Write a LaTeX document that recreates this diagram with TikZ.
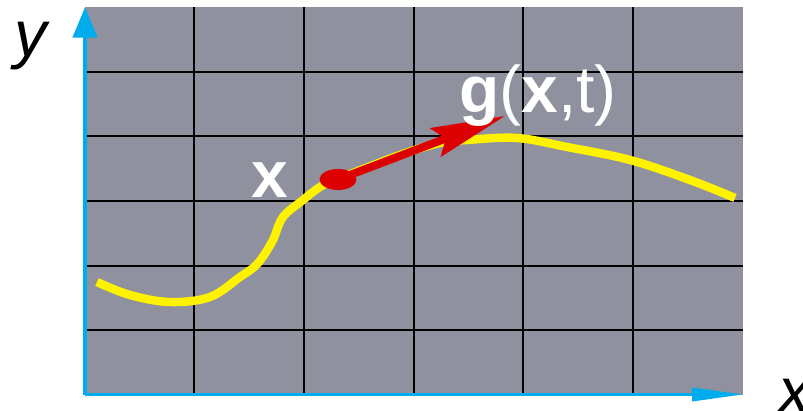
\documentclass[tikz,border=0pt]{standalone}
\usepackage{fontspec}
\setmainfont{Liberation Sans}
\usetikzlibrary{arrows.meta, shapes.geometric}
\definecolor{planegray}{RGB}{143,145,158}
\definecolor{axisblue}{RGB}{0,172,236}
\definecolor{pathyellow}{RGB}{255,242,0}
\definecolor{flowred}{RGB}{220,0,0}
\tikzset{
  gridline/.style={black, line width=1.5pt},
  axislabel/.style={inner sep=0pt, font=\fontsize{37}{40}\selectfont\itshape},
  whitelabel/.style={inner sep=0pt, text=white, font=\fontsize{37.5}{40}\selectfont}
}

\begin{document}
\begin{tikzpicture}[x=0.02cm, y=-0.02cm]
\useasboundingbox (0,0) rectangle (803,411);

% Plane with grid
\fill[planegray] (85,7) rectangle (743,394.5);
\foreach \gx in {194,304,414,523,633}
  \draw[gridline] (\gx,7) -- (\gx,394);
\foreach \gy in {72,136,201,266,330}
  \draw[gridline] (85,\gy) -- (743,\gy);

% Axes
\coordinate (origin) at (85,394.5);
\coordinate (xtip) at (743,394.5);
\coordinate (ytip) at (85,7);
\draw[axisblue, line width=1.7pt, -{Triangle[length=29pt,width=7.5pt]}] (origin) -- (xtip);
\draw[axisblue, line width=2.8pt, -{Triangle[length=17.5pt,width=13.6pt]}] (origin) -- (ytip);
\node[axislabel] (ylabel) at (31,46) {y};
\node[axislabel] (xlabel) at (795,396) {x};

% Trajectory
\draw[pathyellow, line width=4.8pt, line join=round] plot[smooth, tension=0.6] coordinates {
  (97,282) (130,295) (170,302) (210,297) (240,277) (253,268) (262,258)
  (273,240) (283,217) (303,200) (320,187) (338,179) (400,155) (440,143)
  (467,140) (517,138) (567,147) (630,160) (690,180) (735,198)};

% Point and velocity
\node[ellipse, fill=flowred, minimum width=0.74cm, minimum height=0.42cm, inner sep=0pt] (pt) at (338,179.5) {};
\coordinate (gtip) at (505,116);
\draw[flowred, line width=4.5pt, -{Stealth[length=42pt,width=17pt,inset=6pt]}] (pt.center) -- (gtip);
\node[whitelabel, anchor=base] (xpt) at (270,198) {\textbf{x}};
\node[whitelabel, anchor=base west] (gxt) at (459,113) {\textbf{g}(\textbf{x},t)};
\end{tikzpicture}
\end{document}
